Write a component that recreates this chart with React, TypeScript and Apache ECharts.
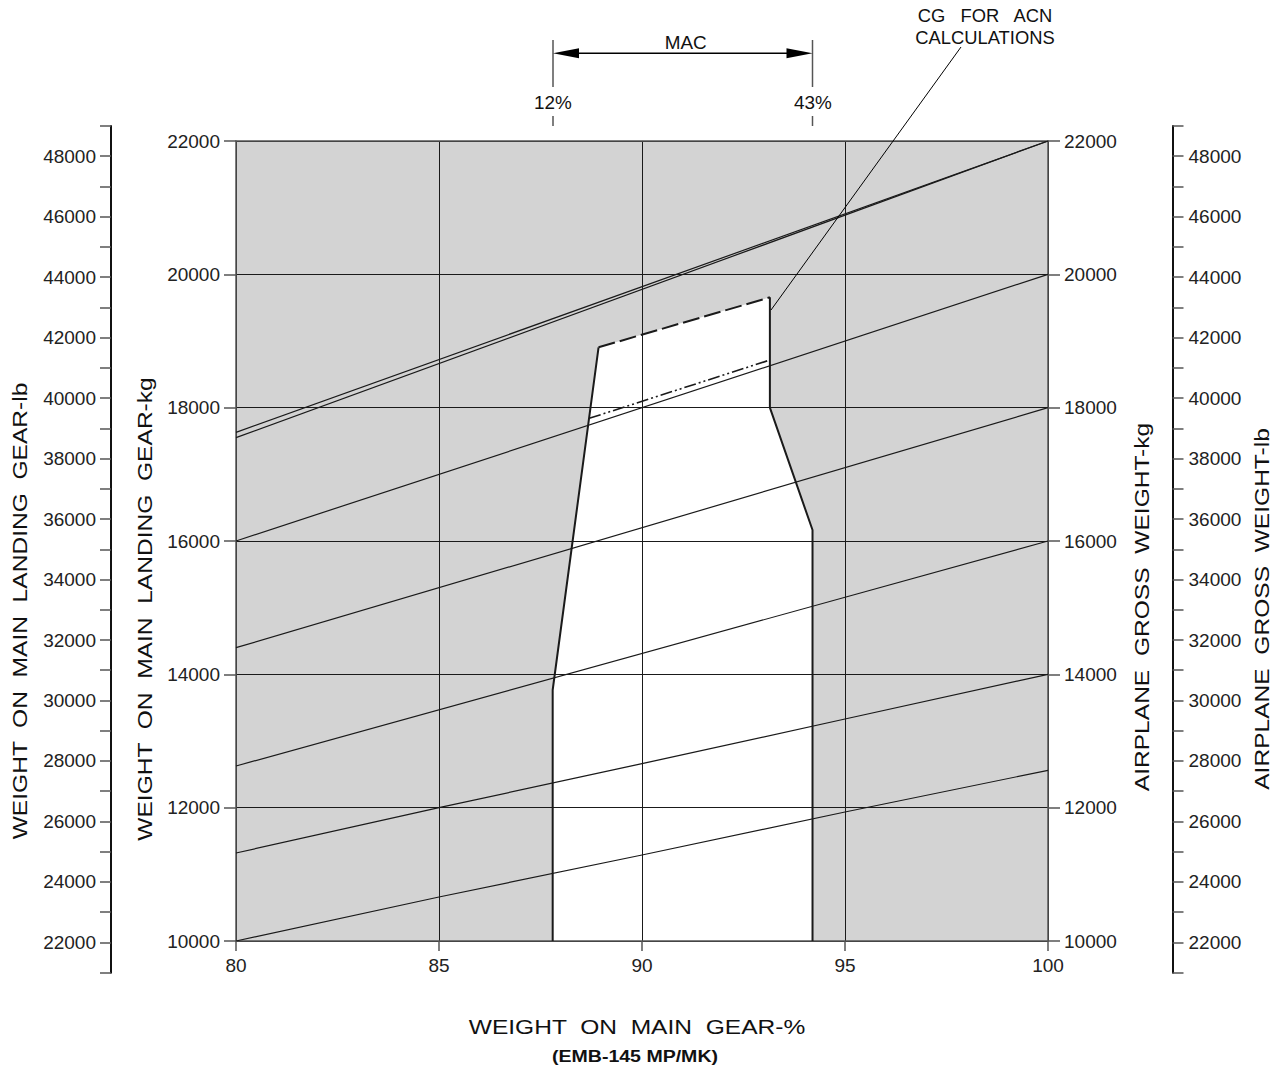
import React, { useEffect, useRef } from "react";
import * as echarts from "echarts";

const LB_PER_KG = 2.20462;

// axis ticks
const pctRange = [80, 100];
const pctInterval = 5;
const kgRange = [10000, 22000];
const kgInterval = 2000;
const lbRange = [21000, 49000];
const lbTickStep = 1000;
const lbLabelStep = 2000;

// gross-weight lines (weight on main gear % vs weight on main gear kg)
const gwLineA = [[80, 17630], [100, 22000]];
const gwLineB = [[80, 17550], [100, 22000]];
const gwLine20000 = [[80, 16000], [100, 20000]];
const gwLine18000 = [[80, 14400], [100, 18000]];
const gwLine16000 = [[80, 12625], [100, 16000]];
const gwLine14000 = [[80, 11320], [85, 12000], [90, 12660], [95, 13330], [100, 14000]];
const gwLine12500 = [[80, 10000], [85, 10660], [90, 11290], [95, 11935], [100, 12560]];

// CG envelope
const envelope = [
  [87.8, 10000], [87.8, 13765], [88.93, 18905], [93.15, 19655],
  [93.15, 18000], [94.2, 16165], [94.2, 10000],
];
const envelopeLeft = [[87.8, 10000], [87.8, 13765], [88.93, 18905]];
const envelopeRight = [[93.15, 19655], [93.15, 18000], [94.2, 16165], [94.2, 10000]];
const acnDashed = [[88.93, 18905], [93.15, 19655]];
const dashDot = [[88.7, 17840], [93.15, 18715]];

const FONT = '"Liberation Sans", Arial, Helvetica, sans-serif';
const INK = "#1a1a1a";
const AXIS = "#555";

export default function App() {
  const ref = useRef<HTMLDivElement>(null);
  useEffect(() => {
    const chart = echarts.init(ref.current!, null, { renderer: "svg" });
    const plot = { left: 236, top: 141, width: 812, height: 800 };
    const kgSpan = kgRange[1] - kgRange[0];
    const pxPerKg = plot.height / kgSpan;
    const lbTopKg = lbRange[1] / LB_PER_KG;
    const lbBotKg = lbRange[0] / LB_PER_KG;
    const lbTop = plot.top - (lbTopKg - kgRange[1]) * pxPerKg;
    const lbHeight = (lbTopKg - lbBotKg) * pxPerKg;

    const lineSeries = (data: number[][], style: any = {}) => ({
      type: "line",
      xAxisIndex: 0,
      yAxisIndex: 0,
      data,
      symbol: "none",
      z: 6,
      silent: true,
      lineStyle: { color: INK, width: 1.2, ...style },
    });

    const lbAxis = (gridIndex: number, position: string) => ({
      type: "value",
      gridIndex,
      position,
      min: lbRange[0],
      max: lbRange[1],
      interval: lbTickStep,
      axisLine: { show: true, lineStyle: { color: "#111", width: 2 } },
      axisTick: { show: true, length: 11, lineStyle: { color: AXIS, width: 1.5 } },
      axisLabel: {
        show: true,
        margin: 15,
        fontSize: 19,
        fontFamily: FONT,
        color: "#222",
        formatter: (v: number) =>
          v % lbLabelStep === 0 && v > lbRange[0] && v < lbRange[1] ? String(v) : "",
      },
      splitLine: { show: false },
    });

    const kgAxis = (position: string, split: boolean) => ({
      type: "value",
      gridIndex: 0,
      position,
      min: kgRange[0],
      max: kgRange[1],
      interval: kgInterval,
      z: 3,
      axisLine: { show: true, lineStyle: { color: AXIS, width: 1.5 } },
      axisTick: { show: true, length: 12, lineStyle: { color: AXIS, width: 1.5 } },
      axisLabel: {
        show: true,
        margin: 16,
        fontSize: 19,
        fontFamily: FONT,
        color: "#222",
        formatter: (v: number) => String(v),
      },
      splitLine: { show: split, lineStyle: { color: INK, width: 1 } },
    });

    const titleText = (
      text: string, x: number, y: number, rot: number,
      size = 21, weight = "normal", sx = 1.17,
    ) => ({
      type: "text",
      x,
      y,
      rotation: rot,
      scaleX: sx,
      z: 100,
      style: {
        text,
        x: 0,
        y: 0,
        align: "center",
        verticalAlign: "middle",
        fill: "#111",
        font: `${weight} ${size}px ${FONT}`,
      },
    });

    const gLine = (x1: number, y1: number, x2: number, y2: number, stroke: string, w: number) => ({
      type: "line",
      z: 100,
      shape: { x1, y1, x2, y2 },
      style: { stroke, lineWidth: w },
    });

    chart.setOption({
      animation: false,
      backgroundColor: "#fff",
      grid: [
        { ...plot },
        { left: 111, top: lbTop, width: 1, height: lbHeight },
        { left: 1172.5, top: lbTop, width: 1, height: lbHeight },
      ],
      xAxis: [
        {
          type: "value",
          gridIndex: 0,
          position: "bottom",
          min: pctRange[0],
          max: pctRange[1],
          interval: pctInterval,
          z: 3,
          axisLine: { show: true, lineStyle: { color: AXIS, width: 1.5 } },
          axisTick: { show: true, length: 10, lineStyle: { color: AXIS, width: 1.5 } },
          axisLabel: { show: true, margin: 15, fontSize: 19, fontFamily: FONT, color: "#222" },
          splitLine: { show: true, lineStyle: { color: INK, width: 1 } },
        },
        {
          type: "value",
          gridIndex: 0,
          position: "top",
          min: pctRange[0],
          max: pctRange[1],
          z: 3,
          axisLine: { show: true, lineStyle: { color: AXIS, width: 1.5 } },
          axisTick: { show: false },
          axisLabel: { show: false },
          splitLine: { show: false },
        },
        { type: "value", gridIndex: 1, show: false, min: 0, max: 1 },
        { type: "value", gridIndex: 2, show: false, min: 0, max: 1 },
      ],
      yAxis: [
        kgAxis("left", true),
        kgAxis("right", false),
        lbAxis(1, "left"),
        lbAxis(2, "right"),
      ],
      series: [
        {
          type: "custom",
          xAxisIndex: 0,
          yAxisIndex: 0,
          z: 1,
          silent: true,
          data: [[pctRange[0], kgRange[0], pctRange[1], kgRange[1]]],
          renderItem: (params: any, api: any) => {
            const p0 = api.coord([api.value(0), api.value(3)]);
            const p1 = api.coord([api.value(2), api.value(1)]);
            return {
              type: "rect",
              shape: { x: p0[0], y: p0[1], width: p1[0] - p0[0], height: p1[1] - p0[1] },
              style: { fill: "#d3d3d3" },
            };
          },
        },
        {
          type: "custom",
          xAxisIndex: 0,
          yAxisIndex: 0,
          z: 2,
          silent: true,
          data: [envelope[0]],
          renderItem: (params: any, api: any) => ({
            type: "polygon",
            shape: { points: envelope.map((p) => api.coord(p)) },
            style: { fill: "#ffffff" },
          }),
        },
        lineSeries(gwLineA),
        lineSeries(gwLineB),
        lineSeries(gwLine20000),
        lineSeries(gwLine18000),
        lineSeries(gwLine16000),
        lineSeries(gwLine14000),
        lineSeries(gwLine12500),
        lineSeries(envelopeLeft, { width: 2 }),
        lineSeries(envelopeRight, { width: 2 }),
        lineSeries(acnDashed, { width: 2, type: [17, 5] }),
        lineSeries(dashDot, { width: 1.6, type: [12, 3, 2, 3, 2, 3] }),
      ],
      graphic: [
        // MAC annotation
        gLine(553, 40, 553, 87, AXIS, 1.5),
        gLine(812.5, 40, 812.5, 87, AXIS, 1.5),
        gLine(553, 116, 553, 126, AXIS, 1.5),
        gLine(812.5, 116, 812.5, 126, AXIS, 1.5),
        gLine(570, 53.3, 796, 53.3, "#000", 1.5),
        { type: "polygon", z: 100, shape: { points: [[553, 53.3], [579, 48.3], [579, 58.3]] }, style: { fill: "#000" } },
        { type: "polygon", z: 100, shape: { points: [[812.5, 53.3], [786.5, 48.3], [786.5, 58.3]] }, style: { fill: "#000" } },
        titleText("MAC", 685.7, 43, 0, 18, "normal", 1.05),
        titleText("12%", 553, 103, 0, 18, "normal", 1.05),
        titleText("43%", 813, 103, 0, 18, "normal", 1.05),
        // CG for ACN annotation
        titleText("CG   FOR   ACN", 985, 16, 0, 18, "normal", 1.02),
        titleText("CALCULATIONS", 985, 38, 0, 18, "normal", 1.02),
        gLine(961, 47, 771, 310, "#000", 1),
        // axis titles
        titleText("WEIGHT  ON  MAIN  LANDING  GEAR-lb", 20, 611, Math.PI / 2),
        titleText("WEIGHT  ON  MAIN  LANDING  GEAR-kg", 145, 609, Math.PI / 2),
        titleText("AIRPLANE  GROSS  WEIGHT-kg", 1142, 607, Math.PI / 2),
        titleText("AIRPLANE  GROSS  WEIGHT-lb", 1262, 609, Math.PI / 2),
        titleText("WEIGHT  ON  MAIN  GEAR-%", 637, 1027, 0),
        titleText("(EMB-145 MP/MK)", 635, 1056, 0, 17, "bold", 1.15),
      ],
    });
    return () => chart.dispose();
  }, []);
  return (
    <div
      ref={ref}
      style={{ position: "absolute", left: 0, top: 0, width: 1277, height: 1071 }}
    />
  );
}
